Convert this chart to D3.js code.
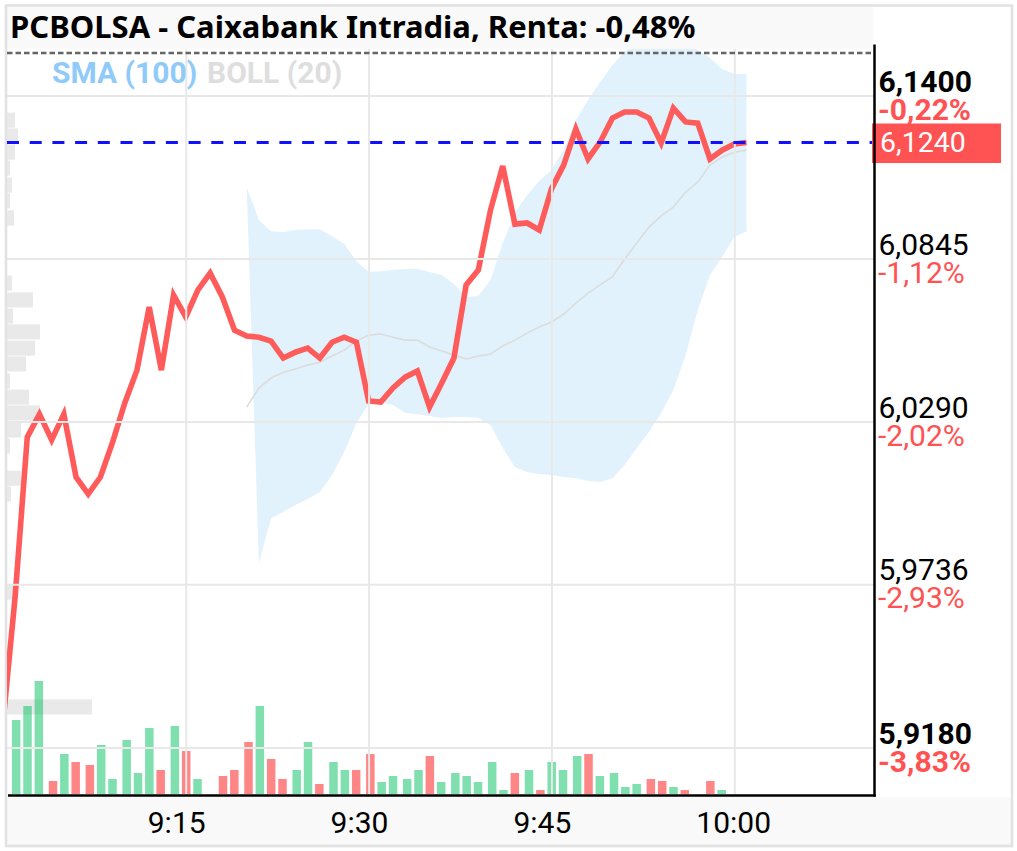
<!DOCTYPE html>
<html>
<head>
<meta charset="utf-8">
<script src="https://cdn.jsdelivr.net/npm/d3@7"></script>
<style>
  body { margin: 0; background: #fff; }
  text { font-family: Roboto, sans-serif; }
</style>
</head>
<body>
<div id="chart"></div>
<script>
// Price per minute, starting at 9:00
const prices = [5.9260, 5.9692, 6.0237, 6.0315, 6.0227, 6.0315, 6.0101, 6.0043, 6.0101, 6.0220,
  6.0353, 6.0465, 6.0680, 6.0465, 6.0720, 6.0646, 6.0738, 6.0795, 6.0714, 6.0601,
  6.0581, 6.0577, 6.0564, 6.0506, 6.0526, 6.0540, 6.0506, 6.0560, 6.0577, 6.0560,
  6.0360, 6.0356, 6.0404, 6.0441, 6.0462, 6.0339, 6.0421, 6.0506, 6.0755, 6.0806,
  6.1010, 6.1160, 6.0962, 6.0966, 6.0942, 6.1082, 6.1163, 6.1286, 6.1184, 6.1242,
  6.1323, 6.1344, 6.1344, 6.1323, 6.1238, 6.1357, 6.1310, 6.1306, 6.1184, 6.1214,
  6.1235, 6.1240];

// Bollinger bands, upper and middle start at minute 20, lower at minute 21
const bollStart = 20;
const bollUpper = [6.1088, 6.0976, 6.0938, 6.0935, 6.0942, 6.0945, 6.0945, 6.0921, 6.0894, 6.0836,
  6.0799, 6.0802, 6.0806, 6.0809, 6.0809, 6.0799, 6.0789, 6.0758, 6.0714, 6.0717,
  6.0772, 6.0898, 6.1000, 6.1061, 6.1109, 6.1146, 6.1214, 6.1316, 6.1385, 6.1446,
  6.1504, 6.1548, 6.1582, 6.1596, 6.1596, 6.1596, 6.1575, 6.1555, 6.1528, 6.1490,
  6.1473, 6.1473];
const bollMiddle = [6.0339, 6.0404, 6.0438, 6.0458, 6.0469, 6.0482, 6.0492, 6.0513, 6.0533, 6.0564,
  6.0584, 6.0588, 6.0577, 6.0567, 6.0567, 6.0544, 6.0530, 6.0516, 6.0503, 6.0513,
  6.0520, 6.0547, 6.0567, 6.0591, 6.0612, 6.0629, 6.0656, 6.0693, 6.0727, 6.0755,
  6.0782, 6.0843, 6.0898, 6.0952, 6.0990, 6.1020, 6.1071, 6.1105, 6.1163, 6.1190,
  6.1207, 6.1214];
const bollLower = [5.9808, 5.9961, 5.9982, 6.0006, 6.0026, 6.0050, 6.0108, 6.0186, 6.0285,
  6.0349, 6.0356, 6.0346, 6.0319, 6.0315, 6.0309, 6.0302, 6.0305, 6.0305, 6.0302,
  6.0278, 6.0200, 6.0135, 6.0118, 6.0111, 6.0108, 6.0101, 6.0097, 6.0087, 6.0084,
  6.0097, 6.0142, 6.0200, 6.0254, 6.0319, 6.0397, 6.0516, 6.0669, 6.0789, 6.0850,
  6.0918, 6.0938];

// Volume per minute, starting at 9:01 (1 = up bar, 0 = down bar)
const volumes = [74, 88, 113, 13, 40, 32, 29, 49, 15, 54, 21, 66, 24, 68, 43, 15, 0, 18, 24, 52,
  88, 35, 15, 24, 52, 10, 32, 24, 24, 40, 12, 18, 15, 24, 38, 12, 21, 18, 12, 32,
  4, 21, 24, 4, 32, 24, 38, 40, 18, 21, 7, 10, 15, 13, 7, 4, 0, 13, 4];
const volumeUp = [1, 1, 1, 0, 1, 0, 0, 1, 1, 1, 1, 1, 0, 1, 0, 1, 1, 0, 0, 0,
  1, 0, 0, 1, 1, 0, 1, 1, 0, 0, 1, 1, 1, 1, 0, 1, 1, 1, 1, 1,
  1, 0, 1, 0, 1, 1, 1, 0, 1, 1, 1, 1, 0, 0, 1, 0, 0, 0, 1];

// Volume by price on the left edge
const profilePrices = [6.1316, 6.1262, 6.1207, 6.1153, 6.1095, 6.1041, 6.0983, 6.0761, 6.0704, 6.0649,
  6.0595, 6.0540, 6.0486, 6.0428, 6.0373, 6.0319, 6.0261, 6.0206, 6.0097, 6.0043, 5.9709, 5.9318];
const profileVolumes = [8, 11, 8, 3, 5, 3, 7, 5, 26, 6, 33, 28, 19, 3, 22, 33, 14, 3, 14, 4, 8, 85];
const profileBin = 0.00555;

const priceTicks = [6.14, 6.0845, 6.029, 5.9736, 5.918];
const pctLabels = ["-0,22%", "-1,12%", "-2,02%", "-2,93%", "-3,83%"];
const timeTicks = [15, 30, 45, 60];
const lastPrice = 6.124;

const width = 1017, height = 851;
const plotLeft = 7, plotRight = 874.5, plotTop = 49, plotBottom = 795.5;
const red = "#ff5252";
const labelSize = "30px";

const svg = d3.select("#chart").append("svg")
  .attr("width", width)
  .attr("height", height)
  .style("display", "block");

const x = d3.scaleLinear().domain([0, 71.5]).range([2.9, 874.5]);
const y = d3.scaleLinear().domain([5.918, 6.14]).range([747.5, 95.5]);
const volY = d3.scaleLinear().domain([0, 113]).range([794, 681]);
const profileX = d3.scaleLinear().domain([0, 85]).range([plotLeft, 92]);

// Title and time strips
svg.append("rect").attr("x", plotLeft).attr("y", 7).attr("width", 866).attr("height", 42).attr("fill", "#f9f9f9");
svg.append("rect").attr("x", plotLeft).attr("y", 797).attr("width", 1004).attr("height", 48).attr("fill", "#f9f9f9");
svg.append("rect").attr("x", 6).attr("y", 5.5).attr("width", 1006).attr("height", 840.5)
  .attr("fill", "none").attr("stroke", "#e2e2e2").attr("stroke-width", 2.6);

svg.append("defs").append("clipPath").attr("id", "plot")
  .append("rect").attr("x", plotLeft).attr("y", plotTop).attr("width", plotRight - plotLeft).attr("height", plotBottom - plotTop);
const plot = svg.append("g").attr("clip-path", "url(#plot)");

// Volume profile
plot.selectAll(".profile")
  .data(profilePrices)
  .enter()
  .append("rect")
  .attr("x", plotLeft)
  .attr("y", d => y(d + profileBin / 2) + 0.6)
  .attr("width", (d, i) => profileX(profileVolumes[i]) - plotLeft)
  .attr("height", y(0) - y(profileBin) - 1.2)
  .attr("fill", "#e9e9e9");

// Bollinger band
const priceLine = d3.line().x(d => x(d.m)).y(d => y(d.p));
const bandPoints = bollUpper.map((p, i) => ({ m: bollStart + i, p: p }))
  .concat(bollLower.map((p, i) => ({ m: bollStart + 1 + i, p: p })).reverse());
plot.append("path")
  .attr("d", priceLine(bandPoints) + "Z")
  .attr("fill", "#e1f2fd");

// Grid lines come from the axes
const yAxis = svg.append("g")
  .attr("transform", `translate(${plotRight},0)`)
  .call(d3.axisRight(y).tickValues(priceTicks).tickSize(-(plotRight - plotLeft)).tickFormat(d => d3.format(".4f")(d).replace(".", ",")));
yAxis.select(".domain").remove();
yAxis.selectAll("line").attr("stroke", "#e8e8e8").attr("stroke-width", 2);
yAxis.selectAll("text")
  .attr("x", 4)
  .attr("dy", -4.5)
  .attr("fill", "#000")
  .style("font-size", labelSize)
  .style("font-weight", (d, i) => (i == 0 || i == priceTicks.length - 1) ? "bold" : "normal");

priceTicks.forEach((d, i) => {
  svg.append("text")
    .attr("x", plotRight + 3.5)
    .attr("y", y(d) + 24)
    .attr("fill", red)
    .style("font-size", labelSize)
    .style("font-weight", (i == 0 || i == priceTicks.length - 1) ? "bold" : "normal")
    .text(pctLabels[i]);
});

const xAxis = svg.append("g")
  .attr("transform", `translate(0,${plotBottom})`)
  .call(d3.axisBottom(x).tickValues(timeTicks).tickSize(-(plotBottom - plotTop))
    .tickFormat(d => `${9 + Math.floor(d / 60)}:${d3.format("02")(d % 60)}`));
xAxis.select(".domain").remove();
xAxis.selectAll("line").attr("stroke", "#e8e8e8").attr("stroke-width", 2);
xAxis.selectAll("text")
  .attr("text-anchor", "start")
  .attr("x", -38.5)
  .attr("y", 37.5)
  .attr("dy", 0)
  .attr("fill", "#000")
  .style("font-size", labelSize);

// Middle band
plot.append("path")
  .attr("d", priceLine(bollMiddle.map((p, i) => ({ m: bollStart + i, p: p }))))
  .attr("fill", "none")
  .attr("stroke", "#dcdcdc")
  .attr("stroke-width", 1.6);

// Volume bars sit on a coarse pixel grid in the original
const snap = 17 / 6;
const barWidth = 8.5;
plot.selectAll(".vol")
  .data(volumes)
  .enter()
  .append("rect")
  .attr("x", (d, i) => Math.round((x(i + 1) - barWidth / 2) / snap) * snap + 0.6)
  .attr("y", d => volY(d))
  .attr("width", barWidth)
  .attr("height", d => volY(0) - volY(d))
  .attr("fill", (d, i) => volumeUp[i] ? "#00c060" : red)
  .attr("fill-opacity", (d, i) => volumeUp[i] ? 0.5 : 0.7);

// Price line
plot.append("path")
  .attr("d", priceLine(prices.map((p, i) => ({ m: i, p: p }))))
  .attr("fill", "none")
  .attr("stroke", red)
  .attr("stroke-opacity", 0.95)
  .attr("stroke-width", 5.6)
  .attr("stroke-linejoin", "miter");

// Last price line and tag
svg.append("line")
  .attr("x1", plotLeft).attr("x2", plotRight)
  .attr("y1", y(lastPrice)).attr("y2", y(lastPrice))
  .attr("stroke", "#1010ff")
  .attr("stroke-width", 2.8)
  .attr("stroke-dasharray", "12,10.7");

svg.append("rect")
  .attr("x", 872).attr("y", y(lastPrice) - 19)
  .attr("width", 129).attr("height", 39.5)
  .attr("fill", red);
svg.append("text")
  .attr("x", 880).attr("y", y(lastPrice) + 9.5)
  .attr("fill", "#fff")
  .style("font-size", "28.5px")
  .text(d3.format(".4f")(lastPrice).replace(".", ","));

// Dotted top line
svg.append("line")
  .attr("x1", plotLeft).attr("x2", plotRight - 1)
  .attr("y1", 53).attr("y2", 53)
  .attr("stroke", "#666")
  .attr("stroke-width", 2.4)
  .attr("stroke-dasharray", "5.5,3");

// Axis lines
svg.append("line").attr("x1", plotRight).attr("x2", plotRight).attr("y1", 44.5).attr("y2", plotBottom + 1.2)
  .attr("stroke", "#000").attr("stroke-width", 2.5);
svg.append("line").attr("x1", 8).attr("x2", plotRight + 1.2).attr("y1", plotBottom).attr("y2", plotBottom)
  .attr("stroke", "#000").attr("stroke-width", 2.5);

// Title and legend
svg.append("text")
  .attr("x", 10).attr("y", 38)
  .style("font-family", "'Noto Sans', sans-serif")
  .style("font-size", "31px")
  .style("font-weight", "bold")
  .text("PCBOLSA - Caixabank Intradia, Renta: -0,48%");

svg.append("text")
  .attr("x", 52).attr("y", 83)
  .attr("fill", "#90caf9")
  .style("font-size", labelSize)
  .style("font-weight", "bold")
  .text("SMA (100)");
svg.append("text")
  .attr("x", 207).attr("y", 83)
  .attr("fill", "#dedede")
  .style("font-size", labelSize)
  .style("font-weight", "bold")
  .text("BOLL (20)");
</script>
</body>
</html>
